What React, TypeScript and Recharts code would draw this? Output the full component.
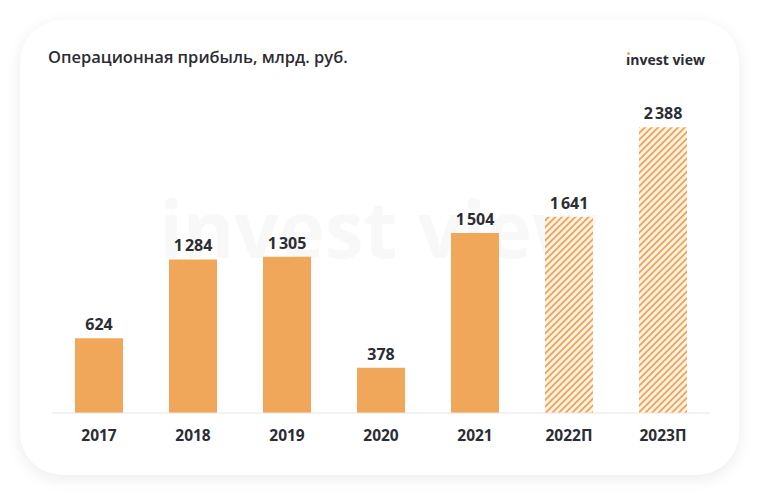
import React from "react";
import { BarChart, Bar, XAxis, YAxis, Cell, LabelList } from "recharts";

const years = ["2017", "2018", "2019", "2020", "2021", "2022П", "2023П"];
const profit = [624, 1284, 1305, 378, 1504, 1641, 2388];
const forecast = [false, false, false, false, false, true, true];

const ORANGE = "#F0A75A";
const TEXT = "#2b2d33";
const FONT = "'Open Sans', 'Noto Sans', sans-serif";

const data = years.map((year, i) => ({ year, value: profit[i], forecast: forecast[i] }));

const fmt = (v: number) => String(v).replace(/\B(?=(\d{3})+(?!\d))/g, "\u202f");

const Tick = (props: any) => {
  const { x, y, payload } = props;
  return (
    <text x={x} y={y + 20} textAnchor="middle" fill={TEXT} fontSize={15.5} fontWeight={700} fontFamily={FONT}>
      {payload.value}
    </text>
  );
};

export default function App() {
  return (
    <div style={{ position: "absolute", left: 0, top: 0, width: 758, height: 499, background: "#fff", overflow: "hidden" }}>
      <svg width={0} height={0} style={{ position: "absolute" }}>
        <defs>
          <pattern id="hatch" patternUnits="userSpaceOnUse" width={4.7} height={4.7} patternTransform="rotate(45)">
            <rect width={4.7} height={4.7} fill="#FFF3E4" />
            <line x1={0} y1={0} x2={0} y2={4.7} stroke="#EDA257" strokeWidth={3.6} />
          </pattern>
        </defs>
      </svg>
      <div
        style={{
          position: "absolute",
          left: 20,
          top: 20,
          width: 719,
          height: 455,
          borderRadius: 42,
          background: "#fff",
          boxShadow: "0 4px 16px rgba(0,0,0,0.08)",
        }}
      />
      <div
        style={{
          position: "absolute",
          left: 0,
          top: 175,
          width: 758,
          textAlign: "center",
          fontFamily: FONT,
          fontWeight: 700,
          fontSize: 78,
          color: "#f8f8f8",
        }}
      >
        invest view
      </div>
      <div style={{ position: "absolute", left: 48, top: 45, fontFamily: FONT, fontWeight: 600, fontSize: 16.5, color: TEXT }}>
        Операционная прибыль, млрд. руб.
      </div>
      <div style={{ position: "absolute", left: 626, top: 50, fontFamily: FONT, fontWeight: 700, fontSize: 14, color: TEXT }}>
        <span style={{ position: "relative" }}>
          ı
          <span style={{ position: "absolute", left: 1, top: 2, width: 3, height: 3, background: ORANGE, borderRadius: 2 }} />
        </span>
        nvest view
      </div>
      <div style={{ position: "absolute", left: 0, top: 0 }}>
        <BarChart width={758} height={499} data={data} margin={{ top: 78, right: 48, bottom: 56, left: 52 }}>
          <XAxis
            dataKey="year"
            height={30}
            axisLine={{ stroke: "#e6e6e6" }}
            tickLine={false}
            tick={<Tick />}
            interval={0}
          />
          <YAxis hide domain={[0, 2800]} />
          <Bar dataKey="value" barSize={48} isAnimationActive={false}>
            {data.map((d, i) => (
              <Cell key={i} fill={d.forecast ? "url(#hatch)" : ORANGE} />
            ))}
            <LabelList
              dataKey="value"
              position="top"
              offset={8}
              formatter={(v: any) => fmt(Number(v))}
              style={{ fill: TEXT, fontSize: 16, fontWeight: 700, fontFamily: FONT }}
            />
          </Bar>
        </BarChart>
      </div>
    </div>
  );
}
